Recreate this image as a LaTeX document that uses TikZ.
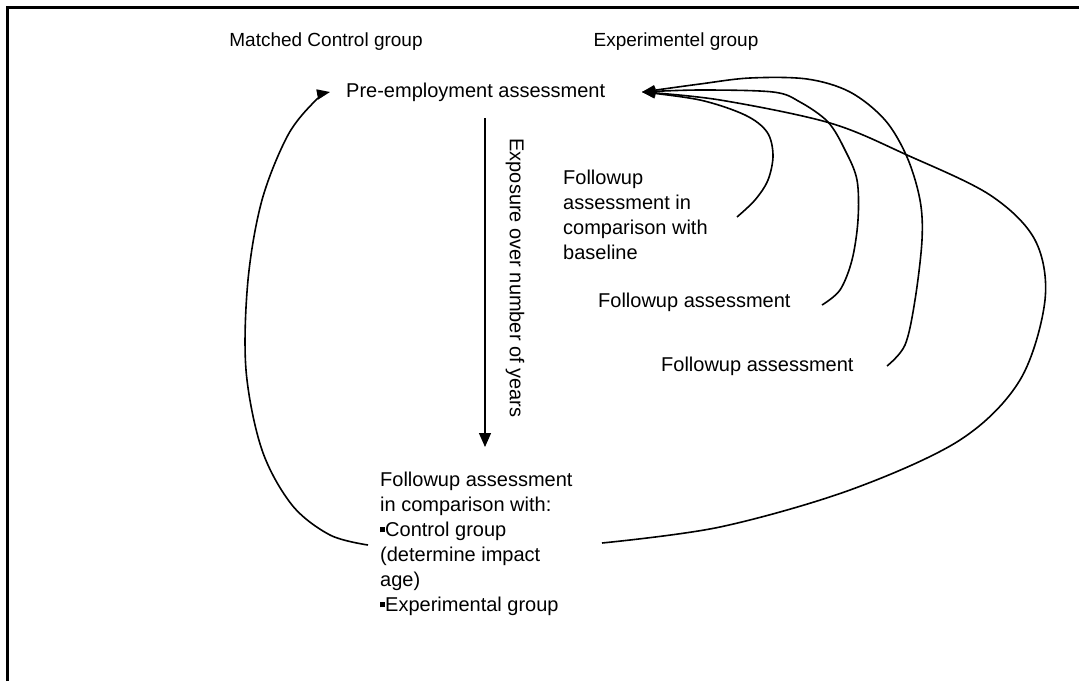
\documentclass[tikz,border=0pt]{standalone}
\usepackage{fontspec}
\setmainfont{Liberation Sans}
\usetikzlibrary{arrows.meta}
\begin{document}
\begin{tikzpicture}[x=1pt,y=-1pt,
  lbl/.style={inner sep=0pt,font=\fontsize{19}{25}\selectfont},
  txt/.style={inner sep=0pt,align=left,font=\fontsize{20}{25}\selectfont},
  conn/.style={line width=1.6pt,-{Triangle[length=13pt,width=10pt]}},
  frame/.style={line width=3pt}]
\useasboundingbox (0,0) rectangle (1079,681);
% frame
\coordinate (fa) at (7,681);
\coordinate (fb0) at (7,7);
\coordinate (fc) at (1079,7);
\draw[frame] (fa) -- (fb0) -- (fc);
% titles
\node[lbl] (mcg) at (326,42) {Matched Control group};
\node[lbl] (exg) at (676,42) {Experimentel group};
% main nodes
\node[txt,anchor=west] (pre) at (346,92) {Pre-employment assessment};
\node[txt,anchor=north west] (fbl) at (563,170) {Followup\\assessment in\\comparison with\\baseline};
\node[txt,anchor=west] (f2) at (598,302) {Followup assessment};
\node[txt,anchor=west] (f3) at (661,366) {Followup assessment};
\node[txt,anchor=north west] (fin) at (380,472) {Followup assessment\\in comparison with:\\\rule[0.22em]{0.25em}{0.25em}Control group\\(determine impact\\age)\\\rule[0.22em]{0.25em}{0.25em}Experimental group};
% vertical arrow
\coordinate (va) at (485,118);
\coordinate (vb) at (485,447);
\draw[line width=1.3pt,-{Triangle[length=14pt,width=12pt]}] (va) -- (vb);
\node[lbl,font=\fontsize{20}{25}\selectfont,rotate=-90] (expo) at (515,278) {Exposure over number of years};
% targets
\coordinate (tl) at (330,92);
\coordinate (tr) at (642,92);
% start points
\coordinate (s0) at (368,545);
\coordinate (s1) at (737,217);
\coordinate (s2) at (822,305);
\coordinate (s3) at (887,366);
\coordinate (s4) at (602,543);
% curves
\draw[conn] plot[smooth,tension=0.55] coordinates {(s0) (330,535) (292,505) (262,450) (246,370) (248,280) (262,200) (288,135) (316,100) (tl)};
\draw[conn] plot[smooth,tension=0.55] coordinates {(s1) (755,200) (768,180) (773,155) (767,132) (745,115) (700,100) (tr)};
\draw[conn] plot[smooth,tension=0.55] coordinates {(s2) (840,290) (852,260) (858,220) (857,180) (845,150) (828,122) (800,102) (773,92) (700,90) (tr)};
\draw[conn] plot[smooth,tension=0.55] coordinates {(s3) (905,345) (915,300) (922,240) (920,200) (907,157) (885,120) (850,92) (807,79) (750,78) (700,84) (tr)};
\draw[conn] plot[smooth,tension=0.55] coordinates {(s4) (720,527) (850,490) (960,440) (1020,380) (1045,300) (1035,240) (990,195) (907,155) (830,123) (720,100) (tr)};
\end{tikzpicture}
\end{document}
